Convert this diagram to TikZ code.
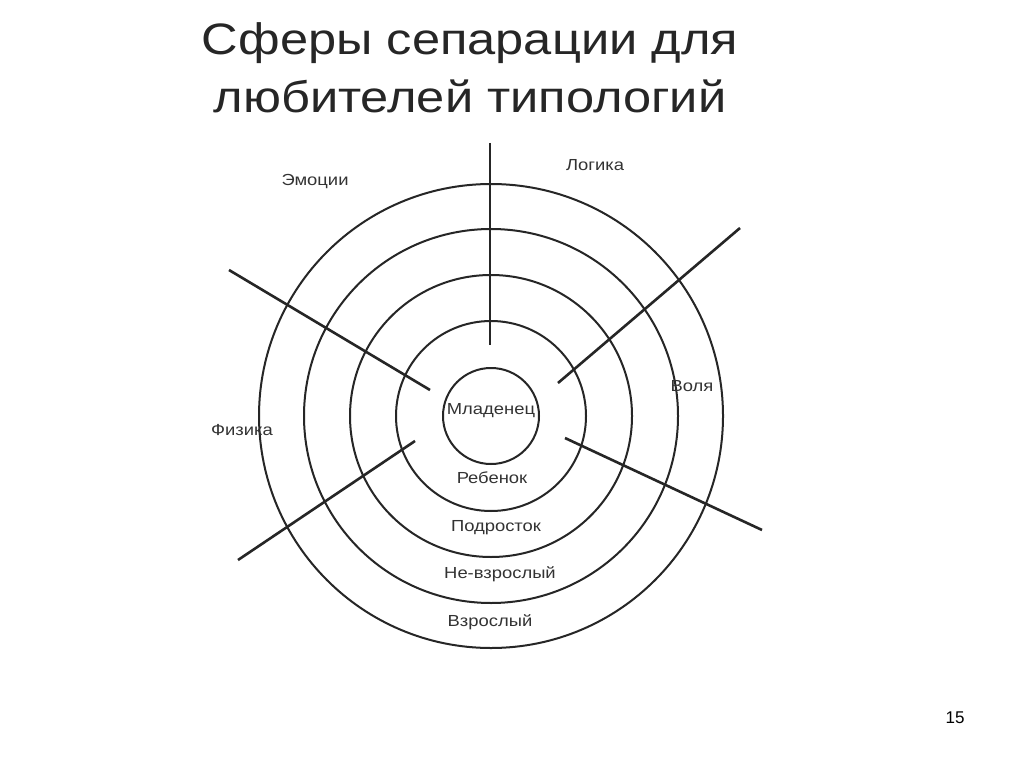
\documentclass[tikz,border=0pt]{standalone}
\usepackage{fontspec}
\setmainfont{Liberation Sans}
\begin{document}
\begin{tikzpicture}[x=1pt,y=-1pt,
  ring/.style={draw=black!85,line width=2pt},
  spoke/.style={draw=black!85,line width=2.6pt},
  lbl/.style={font=\fontsize{16}{18}\selectfont,text=black!80,inner sep=0pt,xscale=1.15}]
\useasboundingbox[fill=white] (0,0) rectangle (1024,767);
\coordinate (c) at (491,416);
\foreach \r in {48,95,141,187,232} \draw[ring] (c) circle[radius=\r];
\coordinate (v1) at (490,143); \coordinate (v2) at (490,345);
\coordinate (a1) at (740,228); \coordinate (a2) at (558,383);
\coordinate (b1) at (229,270); \coordinate (b2) at (430,390);
\coordinate (d1) at (238,560); \coordinate (d2) at (415,441);
\coordinate (e1) at (565,438); \coordinate (e2) at (762,530);
\draw[spoke] (v1)--(v2); \draw[spoke] (a1)--(a2); \draw[spoke] (b1)--(b2);
\draw[spoke] (d1)--(d2); \draw[spoke] (e1)--(e2);
\node[font=\fontsize{44}{58}\selectfont,align=center,text=black!85,inner sep=0pt,xscale=1.15] (t) at (470,68) {Сферы сепарации для\\любителей типологий};
\node[lbl] (l1) at (315,182) {Эмоции};
\node[lbl] (l2) at (595,165) {Логика};
\node[lbl] (l3) at (692,386) {Воля};
\node[lbl] (l4) at (242,430) {Физика};
\node[lbl] (l5) at (491,411) {Младенец};
\node[lbl] (l6) at (492,478) {Ребенок};
\node[lbl] (l7) at (496,528) {Подросток};
\node[lbl] (l8) at (500,574) {Не-взрослый};
\node[lbl] (l9) at (490,622) {Взрослый};
\node[font=\fontsize{17}{20}\selectfont,inner sep=0pt] (n) at (955,718) {15};
\end{tikzpicture}
\end{document}
